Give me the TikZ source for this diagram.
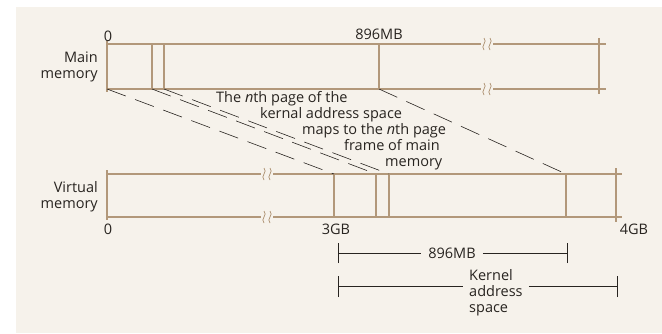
\documentclass[tikz,border=0pt]{standalone}
\usepackage{fontspec}
\setmainfont{Open Sans}
\definecolor{paper}{RGB}{246,242,235}
\definecolor{boxline}{RGB}{178,152,122}
\definecolor{ink}{RGB}{40,36,32}
% break mark on a memory line
\newcommand{\breakmark}[2]{%
  \fill[paper] (#1-6,#2-2) rectangle (#1+6,#2+2);
  \draw[boxline,line width=0.8pt] (#1-3,#2-6) .. controls (#1+1,#2-2) and (#1-7,#2+2) .. (#1-3,#2+6);
  \draw[boxline,line width=0.8pt] (#1+3,#2-6) .. controls (#1+7,#2-2) and (#1-1,#2+2) .. (#1+3,#2+6);}

\begin{document}
\begin{tikzpicture}[x=1pt,y=-1pt,
  every node/.style={font=\fontsize{14.5}{16}\selectfont,text=ink,inner sep=0pt},
  nthline/.style={anchor=west,text height=10pt,text depth=3pt},
  memline/.style={boxline,line width=1.2pt},
  mapline/.style={ink,line width=0.6pt,dash pattern=on 20pt off 10pt},
  dimline/.style={ink,line width=0.6pt}]
\useasboundingbox (0,0) rectangle (662,333);
\fill[paper] (16,7) rectangle (662,333);

% main memory
\draw[memline] (107,44) -- (606,44);
\draw[memline] (107,89) -- (606,89);
\draw[memline] (107,41) -- (107,92);
\draw[memline] (152,44) -- (152,89);
\draw[memline] (164,44) -- (164,89);
\draw[memline] (379,44) -- (379,89);
\draw[memline] (599,38) -- (599,94);
\breakmark{487}{44}
\breakmark{487}{89}
\node[align=right,anchor=east] (mainlbl) at (98,67) {Main\\memory};
\node (mainzero) at (108,36) {0};
\node (main896) at (379,34) {896MB};

% virtual memory
\draw[memline] (107,174) -- (622,174);
\draw[memline] (107,217) -- (622,217);
\draw[memline] (107,170) -- (107,220);
\draw[memline] (334,174) -- (334,217);
\draw[memline] (376,174) -- (376,217);
\draw[memline] (389,174) -- (389,217);
\draw[memline] (566,174) -- (566,217);
\draw[memline] (616,168) -- (616,222);
\breakmark{267}{174}
\breakmark{267}{217}
\node[align=right,anchor=east] (virtlbl) at (98,197) {Virtual\\memory};
\node (virtzero) at (108,229) {0};
\node (virt3gb) at (336,229) {3GB};
\node (virt4gb) at (634,229) {4GB};

% mapping
\coordinate (m0) at (107,89);
\coordinate (mA) at (152,89);
\coordinate (mB) at (164,89);
\coordinate (m896) at (379,89);
\coordinate (v3) at (334,174);
\coordinate (vA) at (376,174);
\coordinate (vB) at (389,174);
\coordinate (v896) at (566,174);
\draw[mapline] (m0) -- (v3);
\draw[mapline] (mA) -- (vA);
\draw[mapline] (mB) -- (vB);
\draw[mapline] (m896) -- (v896);
\node[nthline] (nthA) at (216,99) {The \textit{n}th page of the};
\node[nthline] (nthB) at (260,115) {kernal address space};
\node[nthline] (nthC) at (302,131) {maps to the \textit{n}th page};
\node[nthline] (nthD) at (344,147) {frame of main};
\node[nthline] (nthE) at (385,163) {memory};

% sizes
\coordinate (sizeL) at (338,253);
\coordinate (sizeR) at (567,253);
\node[inner xsep=7pt] (sizelbl) at (452,253) {896MB};
\draw[dimline] (sizeL) -- (sizelbl.west);
\draw[dimline] (sizelbl.east) -- (sizeR);
\draw[dimline] ([yshift=-10pt]sizeL) -- ([yshift=10pt]sizeL);
\draw[dimline] ([yshift=-10pt]sizeR) -- ([yshift=10pt]sizeR);

\coordinate (kernL) at (338,286);
\coordinate (kernR) at (617,286);
\node[align=left,anchor=west,inner xsep=6pt] (kernlbl) at (463,293) {Kernel\\address\\space};
\draw[dimline] (kernL) -- (kernlbl.west |- kernL);
\draw[dimline] (kernlbl.east |- kernR) -- (kernR);
\draw[dimline] ([yshift=-11pt]kernL) -- ([yshift=10pt]kernL);
\draw[dimline] ([yshift=-11pt]kernR) -- ([yshift=10pt]kernR);
\end{tikzpicture}
\end{document}
